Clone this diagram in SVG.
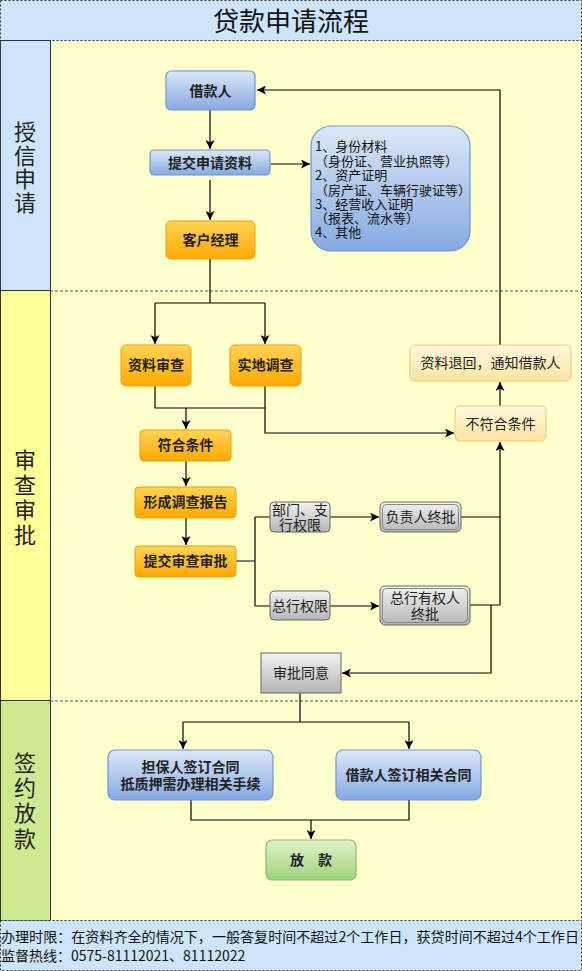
<svg xmlns="http://www.w3.org/2000/svg" width="582" height="971" viewBox="0 0 582 971">
<defs>
<linearGradient id="gBlue" x1="0" y1="0" x2="0" y2="1"><stop offset="0" stop-color="#dbe8f8"/><stop offset="1" stop-color="#86a9e2"/></linearGradient>
<linearGradient id="gOrange" x1="0" y1="0" x2="0" y2="1"><stop offset="0" stop-color="#ffd456"/><stop offset="1" stop-color="#ffa800"/></linearGradient>
<linearGradient id="gLight" x1="0" y1="0" x2="0" y2="1"><stop offset="0" stop-color="#fff8dc"/><stop offset="1" stop-color="#fde5a0"/></linearGradient>
<linearGradient id="gGray" x1="0" y1="0" x2="0" y2="1"><stop offset="0" stop-color="#f2f2f2"/><stop offset="1" stop-color="#b5b5b5"/></linearGradient>
<linearGradient id="gGreen" x1="0" y1="0" x2="0" y2="1"><stop offset="0" stop-color="#e0f2cc"/><stop offset="1" stop-color="#9ed27a"/></linearGradient>
<marker id="arr" viewBox="0 0 10 10" refX="10" refY="5" markerWidth="9" markerHeight="9" markerUnits="userSpaceOnUse" orient="auto"><path d="M0,0 L10,5 L0,10 L2.5,5 Z" fill="#000"/></marker>
</defs>
<style>
.lbl{font-family:"Noto Sans CJK SC","Liberation Sans",sans-serif;fill:#111;}
.b{font-weight:bold;font-size:14px;text-anchor:middle;fill:#222;}
.n{font-size:14px;text-anchor:middle;fill:#222;}
.lane{font-size:22px;text-anchor:middle;fill:#222;writing-mode:vertical-rl;}
.blue{fill:url(#gBlue);stroke:#6f95cf;stroke-width:1.2;}
.orange{fill:url(#gOrange);stroke:#e8a200;stroke-width:1;}
.light{fill:url(#gLight);stroke:#e7c777;stroke-width:1;}
.gray{fill:url(#gGray);stroke:#666;stroke-width:1;}
.green{fill:url(#gGreen);stroke:#88c064;stroke-width:1.2;}
.ln{fill:none;stroke:#000;stroke-width:1.2;}
</style>
<!-- background -->
<rect x="0" y="0" width="582" height="971" fill="#ffffcc"/>
<rect x="0.5" y="0.5" width="581" height="40" fill="#cce5fb" stroke="#333" stroke-dasharray="2,2"/>
<text class="lbl" x="291" y="31" font-size="26" text-anchor="middle" fill="#222">贷款申请流程</text>
<rect x="0.5" y="40.5" width="50" height="250" fill="#cce5fb" stroke="#333"/>
<rect x="0.5" y="290.5" width="50" height="410" fill="#ffff99" stroke="#333"/>
<rect x="0.5" y="700.5" width="50" height="220" fill="#cfe991" stroke="#333"/>
<line x1="50" y1="291" x2="581" y2="291" stroke="#555" stroke-dasharray="3,2"/>
<line x1="50" y1="701" x2="581" y2="701" stroke="#555" stroke-dasharray="3,2"/>
<line x1="581.5" y1="40" x2="581.5" y2="920" stroke="#333" stroke-dasharray="2,2"/>
<rect x="0.5" y="920.5" width="581" height="50" fill="#cce5fb" stroke="#333" stroke-dasharray="2,2"/>
<text class="lbl" font-size="14" fill="#333" x="1" y="942" textLength="578" lengthAdjust="spacingAndGlyphs">办理时限：在资料齐全的情况下，一般答复时间不超过2个工作日，获贷时间不超过4个工作日</text>
<text class="lbl" font-size="14" fill="#333" x="1" y="961">监督热线：0575-81112021、81112022</text>
<g id="lane1"><text class="lbl lane" x="25" y="168" letter-spacing="1.7">授信申请</text></g>
<g id="lane2"><text class="lbl lane" x="25" y="499" letter-spacing="3">审查审批</text></g>
<g id="lane3"><text class="lbl lane" x="25" y="802" letter-spacing="3.3">签约放款</text></g>
<!-- connectors -->
<g id="connectors">
<path class="ln" d="M210,110 V149" marker-end="url(#arr)"/>
<path class="ln" d="M210,180 V220" marker-end="url(#arr)"/>
<path class="ln" d="M271,164 H310" marker-end="url(#arr)"/>
<path class="ln" d="M210,259 V303 M155,303 H265"/>
<path class="ln" d="M155,303 V344" marker-end="url(#arr)"/>
<path class="ln" d="M265,303 V344" marker-end="url(#arr)"/>
<path class="ln" d="M155,386 V408 H265"/>
<path class="ln" d="M186,408 V429" marker-end="url(#arr)"/>
<path class="ln" d="M265,386 V433 H454" marker-end="url(#arr)"/>
<path class="ln" d="M500,406 V382" marker-end="url(#arr)"/>
<path class="ln" d="M500,345 V90 H257" marker-end="url(#arr)"/>
<path class="ln" d="M186,461 V486" marker-end="url(#arr)"/>
<path class="ln" d="M186,518 V545" marker-end="url(#arr)"/>
<path class="ln" d="M236,561 H255 M255,517 V606 M255,517 H270 M255,606 H270"/>
<path class="ln" d="M330,517 H379" marker-end="url(#arr)"/>
<path class="ln" d="M330,606 H379" marker-end="url(#arr)"/>
<path class="ln" d="M461,517 H500 M470,605 H500"/>
<path class="ln" d="M500,605 V442" marker-end="url(#arr)"/>
<path class="ln" d="M491,605 V673 H342" marker-end="url(#arr)"/>
<path class="ln" d="M300,693 V722 M183,722 H409"/>
<path class="ln" d="M183,722 V749" marker-end="url(#arr)"/>
<path class="ln" d="M409,722 V749" marker-end="url(#arr)"/>
<path class="ln" d="M191,800 V820 H409 V800"/>
<path class="ln" d="M311,820 V839" marker-end="url(#arr)"/>
</g>
<!-- nodes -->
<g id="n-borrower"><rect class="blue" x="166" y="71" width="89" height="39" rx="5"/><text class="lbl b" x="210.5" y="96">借款人</text></g>
<g id="n-submit"><rect class="blue" x="150" y="150" width="120" height="25" rx="4"/><text class="lbl b" x="210" y="168">提交申请资料</text></g>
<g id="n-info"><rect class="blue" x="311" y="126" width="159" height="125" rx="20"/>
<text class="lbl" font-size="13" fill="#333"><tspan x="315" y="151">1、身份材料</tspan><tspan x="315" y="166">（身份证、营业执照等）</tspan><tspan x="315" y="180">2、资产证明</tspan><tspan x="315" y="195">（房产证、车辆行驶证等）</tspan><tspan x="315" y="209">3、经营收入证明</tspan><tspan x="315" y="223">（报表、流水等）</tspan><tspan x="315" y="237">4、其他</tspan></text></g>
<g id="n-manager"><rect class="orange" x="166" y="221" width="89" height="38" rx="5"/><text class="lbl b" x="210.5" y="245">客户经理</text></g>
<g id="n-review"><rect class="orange" x="121" y="345" width="70" height="41" rx="5"/><text class="lbl b" x="156" y="370">资料审查</text></g>
<g id="n-survey"><rect class="orange" x="230" y="345" width="71" height="41" rx="5"/><text class="lbl b" x="265.5" y="370">实地调查</text></g>
<g id="n-qualified"><rect class="orange" x="140" y="430" width="91" height="31" rx="4"/><text class="lbl b" x="185.5" y="450">符合条件</text></g>
<g id="n-report"><rect class="orange" x="135" y="487" width="101" height="31" rx="4"/><text class="lbl b" x="185.5" y="507">形成调查报告</text></g>
<g id="n-approve"><rect class="orange" x="135" y="546" width="101" height="31" rx="4"/><text class="lbl b" x="185.5" y="566">提交审查审批</text></g>
<g id="n-returned"><rect class="light" x="410" y="345" width="161" height="36" rx="5"/><text class="lbl n" x="490.5" y="368">资料退回，通知借款人</text></g>
<g id="n-unqualified"><rect class="light" x="455" y="406" width="91" height="35" rx="5"/><text class="lbl n" x="500.5" y="429">不符合条件</text></g>
<g id="n-branch"><rect class="gray" x="270" y="502" width="60" height="30" rx="4"/><text class="lbl n"><tspan x="300" y="515">部门、支</tspan><tspan x="300" y="530">行权限</tspan></text></g>
<g id="n-head"><rect class="gray" x="380" y="502" width="81" height="30" rx="5"/><rect x="382.5" y="504.5" width="76" height="25" rx="4" fill="none" stroke="#888"/><text class="lbl n" x="420.5" y="522">负责人终批</text></g>
<g id="n-hq"><rect class="gray" x="270" y="591" width="60" height="29" rx="4"/><text class="lbl n" x="300" y="611">总行权限</text></g>
<g id="n-hqfinal"><rect class="gray" x="380" y="586" width="90" height="39" rx="5"/><rect x="382.5" y="588.5" width="85" height="34" rx="4" fill="none" stroke="#888"/><text class="lbl n"><tspan x="425" y="603">总行有权人</tspan><tspan x="425" y="619">终批</tspan></text></g>
<g id="n-agree"><rect class="gray" x="261" y="653" width="80" height="40"/><text class="lbl n" x="301" y="678" font-size="15">审批同意</text></g>
<g id="n-guarantor"><rect class="blue" x="108" y="750" width="165" height="50" rx="7"/><text class="lbl b"><tspan x="190.5" y="772">担保人签订合同</tspan><tspan x="190.5" y="789">抵质押需办理相关手续</tspan></text></g>
<g id="n-sign"><rect class="blue" x="336" y="750" width="145" height="50" rx="7"/><text class="lbl b" x="408.5" y="780">借款人签订相关合同</text></g>
<g id="n-loan"><rect class="green" x="266" y="840" width="90" height="40" rx="6"/><text class="lbl b" x="311" y="865">放　款</text></g>
</svg>
